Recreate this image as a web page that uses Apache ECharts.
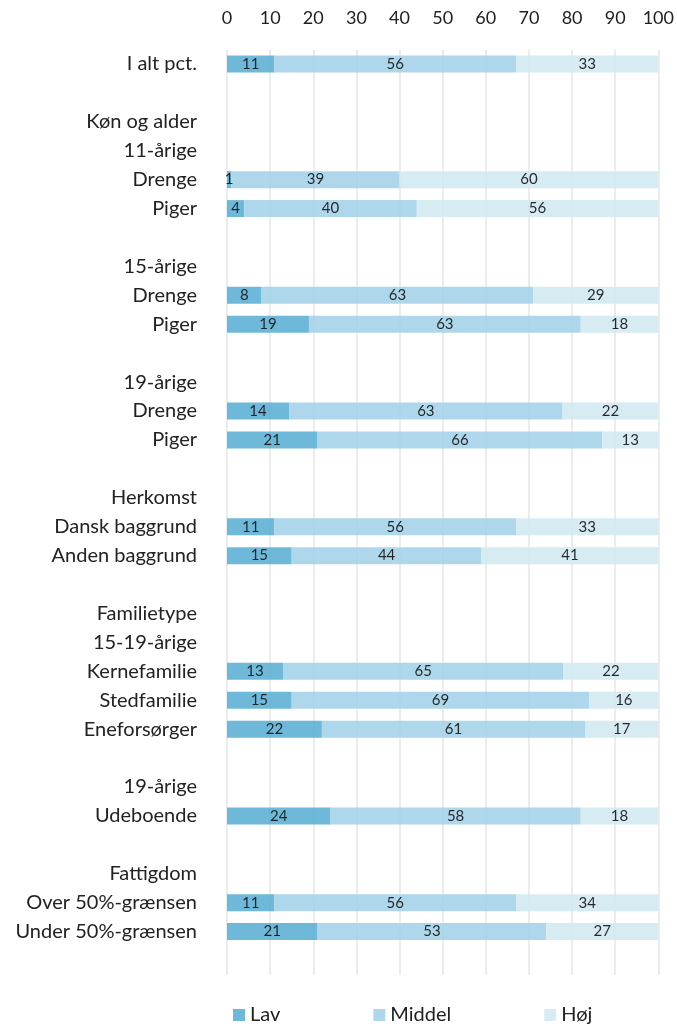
<!DOCTYPE html>
<html><head><meta charset="utf-8">
<script src="https://cdn.jsdelivr.net/npm/echarts@6/dist/echarts.min.js"></script>
<style>html,body{margin:0;padding:0;background:#fff}#c{width:677px;height:1026px}</style>
</head><body><div id="c"></div>
<script>
const categories = ["I alt pct.","","Køn og alder","11-årige","Drenge","Piger","","15-årige","Drenge","Piger","","19-årige","Drenge","Piger","","Herkomst","Dansk baggrund","Anden baggrund","","Familietype","15-19-årige","Kernefamilie","Stedfamilie","Eneforsørger","","19-årige","Udeboende","","Fattigdom","Over 50%-grænsen","Under 50%-grænsen",""];
const lav    = [11,null,null,null,1,4,null,null,8,19,null,null,14.4,21,null,null,11,15,null,null,null,13,15,22,null,null,24,null,null,11,21,null];
const middel = [56,null,null,null,39,40,null,null,63,63,null,null,63.4,66,null,null,56,44,null,null,null,65,69,61,null,null,58,null,null,56,53,null];
const hoj    = [33,null,null,null,60,56,null,null,29,18,null,null,22.2,13,null,null,33,41,null,null,null,22,16,17,null,null,18,null,null,34,27,null];
const seriesNames = ["Lav","Middel","Høj"];
const xTicks = [0,10,20,30,40,50,60,70,80,90,100];

const FONT = "Lato";
const colors = ["#63b4d6","#a9d4e9","#d4eaf2"];
const chart = echarts.init(document.getElementById('c'));
const mk = (name, data, i) => ({
  name, type: 'bar', stack: 'a', data, barWidth: 17,
  itemStyle: { color: colors[i], opacity: 0.93 },
  label: { show: true, position: 'inside', color: '#1a1a1a', fontFamily: FONT, fontSize: 15,
    formatter: p => p.value == null ? '' : String(Math.round(p.value)) },
  emphasis: { disabled: true }
});
chart.setOption({
  animation: false,
  color: colors,
  grid: { left: 227, right: 18, top: 49.5, bottom: 51 },
  xAxis: {
    type: 'value', position: 'top', min: xTicks[0], max: xTicks[xTicks.length-1], interval: 10,
    axisLine: { show: false }, axisTick: { show: false },
    axisLabel: { fontFamily: FONT, fontSize: 18, color: '#222', margin: 22 },
    splitLine: { lineStyle: { color: '#e6e6e6', width: 1.5 } }
  },
  yAxis: {
    type: 'category', inverse: true, data: categories,
    axisLine: { show: false }, axisTick: { show: false },
    axisLabel: { fontFamily: FONT, fontSize: 20, color: '#222', margin: 30, interval: 0 }
  },
  legend: {
    left: 228, top: 1000, itemWidth: 12, itemHeight: 12, itemGap: 93, icon: 'rect',
    textStyle: { fontFamily: FONT, fontSize: 20, color: '#222' },
    data: seriesNames
  },
  series: [mk(seriesNames[0], lav, 0), mk(seriesNames[1], middel, 1), mk(seriesNames[2], hoj, 2)]
});
</script></body></html>
